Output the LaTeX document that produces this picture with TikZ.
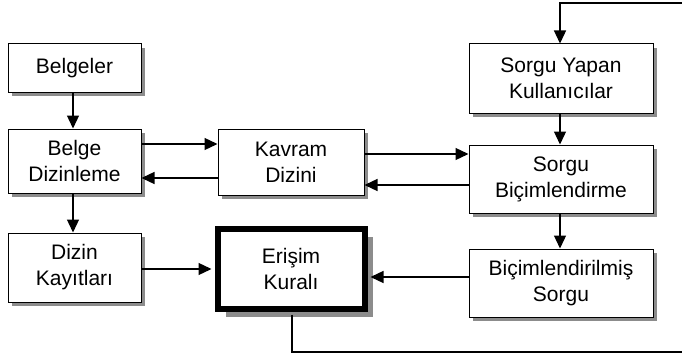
\documentclass[tikz,border=0pt]{standalone}
\usepackage{fontspec}
\setmainfont{Liberation Sans}
\usetikzlibrary{arrows.meta,shadows}
\begin{document}
\begin{tikzpicture}[x=1pt,y=-1pt,
  box/.style={draw=black,line width=1pt,fill=white,inner sep=0pt,align=center,
    font=\fontsize{21}{26}\selectfont,
    drop shadow={shadow xshift=4pt,shadow yshift=-4pt,fill=gray!90,opacity=1}},
  bigbox/.style={draw=black,line width=6pt,fill=white,inner sep=0pt,align=center,
    font=\fontsize{21}{26}\selectfont,
    drop shadow={shadow xshift=8pt,shadow yshift=-8pt,fill=gray!90,opacity=1}},
  conn/.style={line width=1.3pt,-{Triangle[length=13pt,width=12pt]}},
  plain/.style={line width=1.3pt}]
\useasboundingbox (0,0) rectangle (682,353);
\node[box,minimum width=133pt,minimum height=48pt] (belgeler) at (74.5,68) {Belgeler};
\node[box,minimum width=133pt,minimum height=64pt] (bdiz) at (74.5,161) {Belge\\Dizinleme};
\node[box,minimum width=146pt,minimum height=66pt] (kavram) at (291,162) {Kavram\\Dizini};
\node[box,minimum width=133pt,minimum height=69pt] (dkay) at (74.5,267.5) {Dizin\\Kayıtları};
\node[bigbox,minimum width=147pt,minimum height=80pt] (erisim) at (291,268.5) {Erişim\\Kuralı};
\node[box,minimum width=184pt,minimum height=69pt] (syap) at (561,78.5) {Sorgu Yapan\\Kullanıcılar};
\node[box,minimum width=184pt,minimum height=68pt] (sbic) at (561,179) {Sorgu\\Biçimlendirme};
\node[box,minimum width=184pt,minimum height=68pt] (bsorgu) at (561,283) {Biçimlendirilmiş\\Sorgu};
\coordinate (topR) at (682,3);
\coordinate (botR) at (682,352);
% vertical arrows
\draw[conn] (belgeler.south -| 73,0) -- (bdiz.north -| 73,0);
\draw[conn] (bdiz.south -| 73,0) -- (dkay.north -| 73,0);
\draw[conn] (syap.south -| 560,0) -- (sbic.north -| 560,0);
\draw[conn] (sbic.south -| 560,0) -- (bsorgu.north -| 560,0);
% horizontal arrows
\draw[conn] (bdiz.east |- 0,144) -- (kavram.west |- 0,144);
\draw[conn] (kavram.west |- 0,178) -- (bdiz.east |- 0,178);
\draw[conn] (kavram.east |- 0,154) -- (sbic.west |- 0,154);
\draw[conn] (sbic.west |- 0,185) -- (kavram.east |- 0,185);
\draw[conn] (dkay.east |- 0,269) -- ([xshift=-3pt]erisim.west |- 0,269);
\draw[conn] (bsorgu.west |- 0,277) -- ([xshift=3pt]erisim.east |- 0,277);
% feedback loop
\draw[conn] (topR) -- (560,3) -- (syap.north -| 560,0);
\draw[plain] ([yshift=-3pt]erisim.south -| 292,0) -- (292,352) -- (botR);
\end{tikzpicture}
\end{document}
